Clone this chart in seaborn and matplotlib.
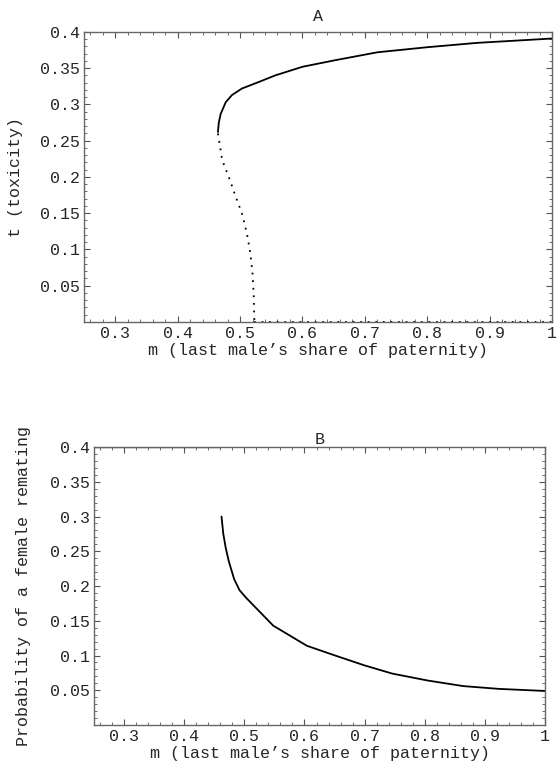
# Two-panel figure: toxicity (A) and female remating probability (B) vs m

import seaborn as sns
import matplotlib.pyplot as plt
from matplotlib.ticker import MultipleLocator

sns.set_style("ticks")
plt.rcParams['font.family'] = ['Liberation Mono', 'DejaVu Sans Mono']

# panel A: stable branch (solid)
m_upper = [0.4646, 0.466, 0.469, 0.477, 0.487, 0.503, 0.53, 0.556, 0.60,
           0.652, 0.72, 0.80, 0.88, 1.0]
t_upper = [0.262, 0.275, 0.287, 0.303, 0.313, 0.322, 0.331, 0.340, 0.352,
           0.361, 0.372, 0.379, 0.385, 0.391]
# panel A: unstable branch (dotted)
m_lower = [0.4646, 0.4715, 0.482, 0.493, 0.503, 0.511, 0.5165, 0.520, 0.522, 0.523]
t_lower = [0.260, 0.223, 0.200, 0.173, 0.150, 0.122, 0.095, 0.067, 0.035, 0.0]
# panel A: t = 0 equilibrium (dotted)
m_zero = [0.523, 1.0]
t_zero = [0.0, 0.0]

# panel B
m_flat = [0.25, 0.462]
p_flat = [0.4, 0.4]
m_remate = [0.462, 0.465, 0.469, 0.474, 0.483, 0.492, 0.503, 0.548, 0.604,
            0.651, 0.699, 0.746, 0.805, 0.864, 0.923, 1.0]
p_remate = [0.300, 0.275, 0.255, 0.236, 0.210, 0.194, 0.183, 0.143, 0.114,
            0.100, 0.086, 0.074, 0.064, 0.056, 0.052, 0.049]

x_ticks = [0.3, 0.4, 0.5, 0.6, 0.7, 0.8, 0.9, 1.0]
x_labels = ["0.3", "0.4", "0.5", "0.6", "0.7", "0.8", "0.9", "1"]
y_ticks = [0.05, 0.1, 0.15, 0.2, 0.25, 0.3, 0.35, 0.4]
y_labels = ["0.05", "0.1", "0.15", "0.2", "0.25", "0.3", "0.35", "0.4"]

fs = 12

fig = plt.figure(figsize=(5.58, 7.69), dpi=100)
ax1 = fig.add_axes([0.1505, 0.5813, 0.839, 0.3771])
ax2 = fig.add_axes([0.1685, 0.0572, 0.8082, 0.3615])

sns.lineplot(x=m_upper, y=t_upper, sort=False, estimator=None, color='black', lw=1.3, ax=ax1)
sns.lineplot(x=m_lower, y=t_lower, sort=False, estimator=None, color='black', lw=1.3,
             linestyle=(0, (1, 3.2)), ax=ax1)
sns.lineplot(x=m_zero, y=t_zero, sort=False, estimator=None, color='black', lw=1.3,
             linestyle=(0, (1, 3.2)), ax=ax1)

sns.lineplot(x=m_flat, y=p_flat, sort=False, estimator=None, color='black', lw=1.6, ax=ax2)
sns.lineplot(x=m_remate, y=p_remate, sort=False, estimator=None, color='black', lw=1.3, ax=ax2)

for ax in (ax1, ax2):
    ax.set_xlim(0.25, 1.0)
    ax.set_ylim(0, 0.4)
    ax.set_xticks(x_ticks, x_labels)
    ax.set_yticks(y_ticks, y_labels)
    ax.xaxis.set_minor_locator(MultipleLocator(0.02))
    ax.yaxis.set_minor_locator(MultipleLocator(0.01))
    ax.tick_params(which='both', direction='in', top=True, right=True,
                   color='#555555', labelsize=fs, pad=3)
    ax.tick_params(which='major', length=4, width=0.8)
    ax.tick_params(which='minor', length=2, width=0.6)
    for sp in ax.spines.values():
        sp.set_color('#666666')
        sp.set_linewidth(1.0)
    ax.set_xlabel("m (last male’s share of paternity)", fontsize=fs, labelpad=1)
    ax.grid(False)

ax1.set_ylabel("t (toxicity)", fontsize=fs)
ax1.yaxis.set_label_coords(-0.13, 0.5)
ax1.set_title("A", fontsize=fs, pad=8)

ax2.set_ylabel("Probability of a female remating", fontsize=fs)
ax2.yaxis.set_label_coords(-0.14, 0.5)
ax2.set_title("B", fontsize=fs, pad=2)

plt.savefig("out.png", dpi=100)
